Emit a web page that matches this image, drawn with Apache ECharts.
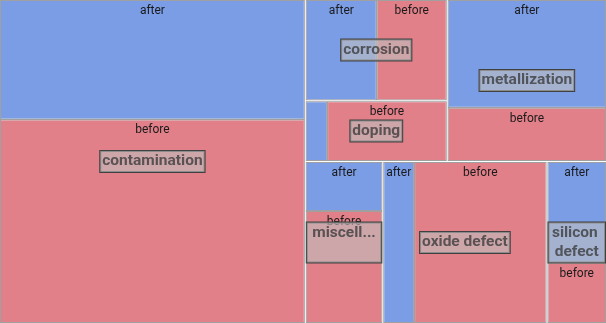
<!DOCTYPE html>
<html><head><meta charset="utf-8">
<script src="https://cdn.jsdelivr.net/npm/echarts@6/dist/echarts.min.js"></script>
<style>html,body{margin:0;padding:0;background:#fff}#c{width:606px;height:323px}</style>
</head><body><div id="c"></div>
<script>
// ---- data ----
const categories = ['contamination', 'corrosion', 'doping', 'metallization', 'miscellaneous', 'oxide defect', 'silicon defect'];
const stages = ['after', 'before'];
const afterValues  = [36.5, 7.2, 1.3, 17.2, 3.8, 5.0, 6.0];
const beforeValues = [62.2, 7.1, 7.3, 8.5, 8.7, 21.5, 3.6];
// nesting that arranges the groups (indices into categories)
const arrangement = [0, [[[1, 2], 3], [4, 5, 6]]];

// ---- style ----
const stageColors = { after: '#7b9de6', before: '#e2808a' };
const GRAY = '#a0a0a0';
const FONT_FAMILY = 'Roboto';
const GROUP_FONT_SIZE = 15.5;
const GROUP_LINE_H = 19;

function groupNode(i) {
  return {
    name: categories[i],
    itemStyle: { borderWidth: 1, borderColor: GRAY, gapWidth: 2 },
    children: stages.map((s, k) => ({
      name: s,
      value: (k === 0 ? afterValues : beforeValues)[i],
      itemStyle: { color: stageColors[s], borderWidth: 0 }
    }))
  };
}
function build(a) {
  if (typeof a === 'number') return groupNode(a);
  return { name: '', itemStyle: { borderWidth: 0, gapWidth: 1, borderColor: '#fff' }, children: a.map(build) };
}
const treeData = arrangement.map(build);
const gfont = 'bold ' + GROUP_FONT_SIZE + 'px ' + FONT_FAMILY;

function draw() {
  const chart = echarts.init(document.getElementById('c'), null, { renderer: 'canvas' });

  function leafLabel(p) {
    try {
      const l = chart.getModel().getSeriesByIndex(0).getData().getItemLayout(p.dataIndex);
      if (l && l.width < 24) return '';
    } catch (e) {}
    return p.name;
  }

  chart.setOption({
    animation: false,
    backgroundColor: '#fff',
    series: [{
      type: 'treemap',
      left: 0, top: 0, width: 606, height: 323,
      sort: false,
      squareRatio: 1,
      roam: false,
      nodeClick: false,
      silent: true,
      breadcrumb: { show: false },
      visibleMin: 0,
      levels: [{ itemStyle: { borderWidth: 0, gapWidth: 1, borderColor: '#fff' } }],
      itemStyle: { borderWidth: 0, gapWidth: 0, borderColor: '#fff' },
      upperLabel: { show: false },
      label: {
        show: true, position: 'insideTop', distance: 0, padding: [4, 1, 0, 1],
        color: '#1a1a1a', fontFamily: FONT_FAMILY, fontSize: 12,
        overflow: 'truncate', formatter: leafLabel
      },
      emphasis: { disabled: true },
      data: treeData
    }]
  });

  // ---- group labels, placed from the treemap's own layout ----
  const sm = chart.getModel().getSeriesByIndex(0);
  const tree = sm.getData().tree;
  const rects = {};
  function walk(node, ox, oy) {
    const l = node.getLayout();
    if (!l) return;
    const x = ox + (l.x || 0), y = oy + (l.y || 0);
    if (categories.indexOf(node.name) >= 0 && node.children && node.children.length) {
      rects[node.name] = { x: x, y: y, w: l.width, h: l.height };
    }
    (node.children || []).forEach(c => walk(c, x, y));
  }
  const li = sm.layoutInfo || { x: 0, y: 0 };
  walk(tree.root, li.x || 0, li.y || 0);

  const ctx = document.createElement('canvas').getContext('2d');
  ctx.font = gfont;
  const graphics = [];
  categories.forEach(name => {
    const r = rects[name];
    if (!r) return;
    const avail = r.w - 4;
    const style = {
      text: name, font: gfont, fill: 'rgba(60,60,60,0.8)',
      align: 'center', verticalAlign: 'middle', lineHeight: GROUP_LINE_H,
      backgroundColor: 'rgba(192,192,192,0.6)', borderColor: '#404040', borderWidth: 1,
      padding: [1, 2]
    };
    if (ctx.measureText(name).width > avail - 4) {
      style.width = avail;
      style.padding = [1, 1];
      const words = name.split(' ');
      if (words.some(w => ctx.measureText(w).width > avail)) {
        style.text = name + '\n ';
        style.overflow = 'truncate';
      } else {
        style.overflow = 'break';
      }
    }
    graphics.push({ type: 'text', silent: true, z: 100, x: r.x + r.w / 2, y: r.y + r.h / 2, style: style });
  });
  chart.setOption({ graphic: graphics });
}

if (document.fonts && document.fonts.load) {
  Promise.all([
    document.fonts.load(gfont),
    document.fonts.load('12px ' + FONT_FAMILY)
  ]).then(draw, draw);
} else {
  draw();
}
</script>
</body></html>
